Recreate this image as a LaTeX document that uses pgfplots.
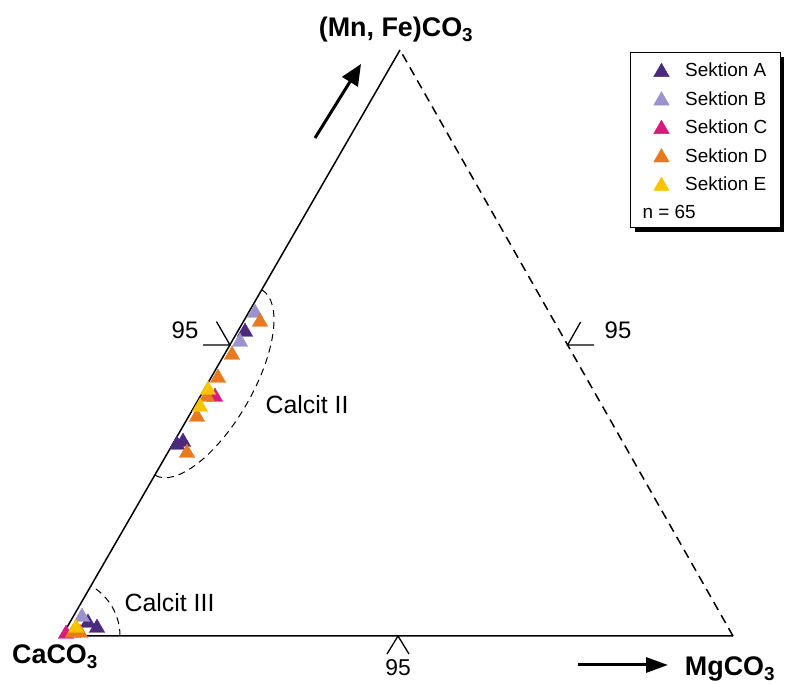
\documentclass[border=0pt]{standalone}
\usepackage{fontspec}
\setmainfont{Liberation Sans}
\usepackage{pgfplots}
\pgfplotsset{compat=1.18}
\usetikzlibrary{arrows.meta}
\definecolor{secA}{HTML}{4B2A7E}
\definecolor{secB}{HTML}{9A93CC}
\definecolor{secC}{HTML}{D81B7D}
\definecolor{secD}{HTML}{E8791F}
\definecolor{secE}{HTML}{F8C400}
\begin{document}
\begin{tikzpicture}
\useasboundingbox (0,0) rectangle (785bp,684bp);
\begin{axis}[at={(0,0)}, anchor=south west, scale only axis,
  width=785bp, height=684bp, xmin=0, xmax=785, ymin=0, ymax=684,
  axis lines=none, clip=false,
  legend style={at={(axis cs:653.5,621)}, anchor=north west, draw=none, fill=none,
    inner sep=0bp, font=\fontsize{19}{22}\selectfont,
    nodes={inner sep=0bp, text height=13bp, text depth=4bp},
    row sep=11bp, column sep=16bp},
  legend cell align=left,
  every axis plot/.append style={only marks, mark=triangle*, mark size=9}]

% legend box with shadow
\fill[black] (axis cs:635,452) rectangle (axis cs:784,627);
\draw[line width=1bp, fill=white] (axis cs:630,456) rectangle (axis cs:780,631);
\node[anchor=west, font=\fontsize{19}{22}\selectfont] at (axis cs:639,472) {n = 65};

% triangle frame
\draw[line width=1.5bp] (axis cs:400,634) -- (axis cs:62,48) -- (axis cs:733,48);
\draw[line width=1.5bp, dash pattern=on 9bp off 6bp] (axis cs:733,48) -- (axis cs:400,634);

% 95 ticks
\draw[line width=1.3bp] (axis cs:203,339) -- (axis cs:230,339) -- (axis cs:216.5,362.4);
\draw[line width=1.3bp] (axis cs:594,339) -- (axis cs:567.6,339) -- (axis cs:580.6,362);
\draw[line width=1.3bp] (axis cs:387,30) -- (axis cs:398,48) -- (axis cs:409,30);
\node[font=\fontsize{24}{26}\selectfont] at (axis cs:185,354) {95};
\node[font=\fontsize{24}{26}\selectfont] at (axis cs:618,354) {95};
\node[font=\fontsize{23}{26}\selectfont, anchor=north, inner sep=0bp] at (axis cs:398,25) {95};

% field outlines
\draw[line width=1bp, dash pattern=on 7bp off 5bp, shift={(axis cs:208.3,301.5)}, rotate=60]
  (107bp,0) arc[start angle=0, end angle=-180, x radius=107bp, y radius=44bp];
\draw[line width=1bp, dash pattern=on 7bp off 5bp] (axis cs:120,48) arc[start angle=0, end angle=60, radius=58bp];
\node[anchor=west, font=\fontsize{25}{28}\selectfont] at (axis cs:262,279) {Calcit II};
\node[anchor=west, font=\fontsize{25}{28}\selectfont] at (axis cs:121,81) {Calcit III};

% arrows
\draw[line width=3bp, -{Triangle[length=21bp, width=18bp]}] (axis cs:315,546) -- (axis cs:361,620);
\draw[line width=3bp, -{Triangle[length=22bp, width=15bp]}] (axis cs:578,19) -- (axis cs:668,19);

% vertex labels
\node[font=\fontsize{27}{30}\selectfont\bfseries] at (axis cs:396,654) {(Mn, Fe)CO\textsubscript{3}};
\node[font=\fontsize{27}{30}\selectfont\bfseries] at (axis cs:55,27) {CaCO\textsubscript{3}};
\node[font=\fontsize{27}{30}\selectfont\bfseries] at (axis cs:730,15) {MgCO\textsubscript{3}};

% data
\addplot[color=secA, mark options={fill=secA, draw=secA}] coordinates {(245,352) (183,242) (177,239) (97,56) (88,61)};
\addlegendentry{Sektion A}
\addplot[color=secB, mark options={fill=secB, draw=secB}] coordinates {(255,371) (240,342) (82,67)};
\addlegendentry{Sektion B}
\addplot[color=secC, mark options={fill=secC, draw=secC}] coordinates {(215,287) (66,50)};
\addlegendentry{Sektion C}
\addplot[color=secD, mark options={fill=secD, draw=secD}] coordinates {(260,362) (232,329) (218,306) (207,287) (197,267) (187,231) (73,51) (80,51)};
\addlegendentry{Sektion D}
\addplot[color=secE, mark options={fill=secE, draw=secE}] coordinates {(208,294) (200,277) (76,56)};
\addlegendentry{Sektion E}
\end{axis}
\end{tikzpicture}
\end{document}
